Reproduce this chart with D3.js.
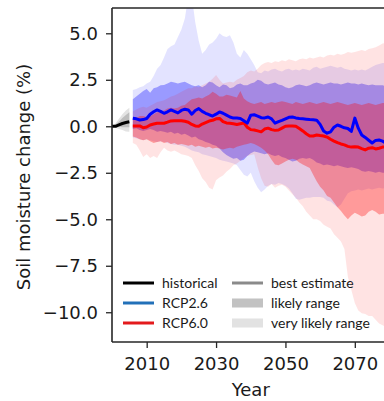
<!DOCTYPE html>
<html>
<head>
<meta charset="utf-8">
<script src="https://cdn.jsdelivr.net/npm/d3@7"></script>
<style>
  html, body { margin: 0; padding: 0; background: #fff; }
  svg { display: block; }
</style>
</head>
<body>
<svg id="chart" width="384" height="401"></svg>
<script>
// ---- data: soil moisture change (%) relative to 1986-2005 ----
const histYears = [2000, 2001, 2002, 2003, 2004, 2005];
const histMean = [0.00, 0.00, 0.08, 0.15, 0.20, 0.24];
const histLikelyHi = [0.00, 0.10, 0.25, 0.45, 0.60, 0.75];
const histLikelyLo = [0.00, -0.03, -0.03, -0.05, -0.05, -0.05];
const histVeryLikelyHi = [0.00, 0.15, 0.40, 0.65, 0.85, 1.00];
const histVeryLikelyLo = [0.00, -0.08, -0.15, -0.20, -0.28, -0.30];

const years = d3.range(2006, 2081);

const rcp26Mean = [
  0.43, 0.40, 0.34, 0.36, 0.42, 0.65, 0.78, 0.88, 0.80, 0.70,
  0.78, 0.88, 0.80, 0.72, 0.85, 0.92, 0.88, 0.65, 0.85, 0.95,
  0.80, 0.70, 0.62, 0.55, 0.65, 0.77, 0.70, 0.60, 0.50, 0.44,
  0.44, 0.42, 0.30, 0.17, 0.60, 0.62, 0.55, 0.46, 0.45, 0.50,
  0.40, 0.17, 0.25, 0.32, 0.40, 0.48, 0.50, 0.45, 0.42, 0.40,
  0.38, 0.36, 0.35, 0.33, 0.10, -0.25, -0.37, -0.30, -0.05, 0.07,
  0.00, -0.08, -0.12, -0.28, 0.44, -0.10, -0.47, -0.60, -0.75, -0.90,
  -0.76, -0.74, -0.80, -0.90, -0.90
];
const rcp26LikelyHi = [
  1.45, 1.60, 1.75, 1.90, 2.00, 1.80, 2.05, 2.10, 2.20, 2.22,
  2.30, 2.40, 2.35, 2.30, 2.35, 2.40, 2.30, 2.20, 2.15, 2.20,
  2.10, 2.20, 2.40, 2.35, 2.20, 2.10, 2.25, 2.20, 2.05, 2.10,
  2.25, 2.30, 2.20, 2.20, 2.30, 2.35, 2.50, 2.45, 2.30, 2.25,
  2.30, 2.35, 2.25, 2.20, 2.10, 2.05, 2.10, 2.20, 2.25, 2.20,
  2.15, 2.20, 2.30, 2.35, 2.30, 2.25, 2.30, 2.35, 2.30, 2.30,
  2.25, 2.30, 2.35, 2.30, 2.30, 2.25, 2.30, 2.25, 2.20, 2.25,
  2.20, 2.20, 2.20, 2.15, 2.15
];
const rcp26LikelyLo = [
  -0.15, -0.10, -0.20, -0.25, -0.20, -0.15, -0.20, -0.30, -0.25, -0.30,
  -0.35, -0.30, -0.40, -0.35, -0.45, -0.40, -0.50, -0.60, -0.55, -0.70,
  -0.75, -0.85, -0.90, -1.00, -1.05, -1.20, -1.40, -1.55, -1.65, -1.75,
  -1.70, -1.85, -1.80, -1.60, -1.45, -1.35, -1.40, -1.45, -1.50, -1.45,
  -1.55, -1.60, -1.55, -1.65, -1.70, -1.80, -1.90, -1.85, -1.75, -1.70,
  -1.75, -1.70, -1.80, -1.95, -2.00, -2.10, -2.05, -2.10, -2.15, -2.10,
  -2.15, -2.20, -2.25, -2.20, -2.25, -2.30, -2.40, -2.45, -2.40, -2.45,
  -2.50, -2.45, -2.50, -2.50, -2.50
];
const rcp26VeryLikelyHi = [
  1.95, 2.00, 2.10, 2.15, 2.30, 2.40, 2.70, 3.10, 3.30, 3.70,
  4.15, 4.30, 4.40, 4.80, 5.20, 5.80, 7.00, 7.00, 5.60, 4.60,
  3.90, 4.10, 4.40, 4.50, 4.70, 5.00, 4.85, 4.80, 4.90, 4.50,
  3.90, 3.70, 4.10, 3.90, 3.60, 3.30, 2.90, 2.85, 3.00, 2.95,
  3.05, 3.10, 3.00, 2.95, 3.05, 3.10, 3.00, 3.05, 3.00, 3.10,
  3.05, 3.00, 3.15, 3.20, 3.10, 3.15, 3.20, 3.25, 3.20, 3.15,
  3.20, 3.10, 3.05, 3.00, 3.05, 3.00, 3.05, 3.00, 3.10, 3.20,
  3.30, 3.35, 3.40, 3.40, 3.40
];
const rcp26VeryLikelyLo = [
  -0.60, -0.65, -0.70, -0.75, -0.70, -0.75, -0.80, -0.85, -0.80, -0.85,
  -0.90, -0.95, -1.00, -1.00, -1.05, -1.10, -1.20, -1.30, -1.35, -1.40,
  -1.50, -1.55, -1.60, -1.65, -1.70, -1.80, -1.85, -1.90, -1.95, -2.00,
  -2.10, -2.35, -2.60, -2.70, -2.50, -2.95, -3.30, -3.55, -3.40, -3.20,
  -3.10, -3.15, -3.05, -3.10, -3.20, -3.35, -3.60, -3.90, -3.95, -3.90,
  -3.85, -3.85, -3.80, -3.80, -3.80, -3.85, -4.00, -4.05, -4.20, -4.35,
  -4.20, -3.90, -3.60, -3.50, -3.45, -3.40, -3.45, -3.40, -3.35, -3.40,
  -3.35, -3.30, -3.35, -3.30, -3.30
];

const rcp60Mean = [
  0.02, 0.02, 0.02, -0.08, -0.04, 0.07, 0.12, 0.16, 0.16, 0.16,
  0.22, 0.29, 0.30, 0.30, 0.30, 0.27, 0.22, 0.10, 0.02, 0.00,
  0.12, 0.20, 0.28, 0.32, 0.40, 0.42, 0.25, 0.18, 0.16, 0.14,
  0.10, 0.14, 0.18, -0.05, -0.18, -0.20, -0.25, -0.30, -0.15, -0.10,
  -0.18, -0.22, -0.20, -0.10, 0.00, 0.02, 0.02, 0.00, -0.12, -0.25,
  -0.40, -0.52, -0.52, -0.47, -0.50, -0.52, -0.58, -0.70, -0.80, -0.88,
  -0.95, -1.00, -1.08, -1.12, -1.10, -1.12, -1.20, -1.27, -1.18, -1.15,
  -1.22, -1.18, -1.12, -1.12, -1.12
];
const rcp60LikelyHi = [
  0.35, 0.45, 0.55, 0.55, 0.50, 0.55, 0.65, 0.75, 0.80, 0.85,
  0.95, 1.00, 0.95, 1.00, 1.10, 1.15, 1.30, 1.45, 1.50, 1.55,
  1.50, 1.60, 1.70, 1.85, 1.75, 1.60, 1.60, 1.70, 1.65, 1.60,
  1.55, 1.90, 1.50, 1.35, 1.25, 1.20, 1.25, 1.30, 1.20, 1.25,
  1.30, 1.25, 1.30, 1.35, 1.30, 1.25, 1.20, 1.30, 1.25, 1.20,
  1.25, 1.30, 1.25, 1.20, 1.25, 1.30, 1.25, 1.20, 1.25, 1.30,
  1.25, 1.20, 1.15, 1.20, 1.25, 1.20, 1.15, 1.20, 1.25, 1.20,
  1.15, 1.20, 1.25, 1.25, 1.25
];
const rcp60LikelyLo = [
  -0.55, -0.60, -0.70, -0.75, -0.70, -0.80, -0.90, -0.85, -0.80, -0.90,
  -0.85, -0.95, -0.90, -1.00, -0.95, -1.00, -1.05, -1.00, -1.10, -1.05,
  -1.10, -1.15, -1.10, -1.20, -1.15, -1.20, -1.25, -1.20, -1.15, -1.20,
  -1.10, -1.05, -1.00, -0.95, -0.90, -0.95, -1.05, -1.15, -1.30, -1.50,
  -1.80, -2.05, -2.10, -2.00, -1.90, -1.80, -1.75, -1.80, -1.95, -2.05,
  -2.15, -2.25, -2.60, -2.95, -3.25, -3.45, -3.75, -3.85, -4.10, -4.35,
  -4.55, -4.80, -5.00, -4.80, -4.65, -4.75, -4.85, -4.80, -4.60, -4.50,
  -4.60, -4.75, -4.70, -4.70, -4.70
];
const rcp60VeryLikelyHi = [
  0.80, 0.90, 1.00, 1.05, 1.00, 1.10, 1.20, 1.30, 1.35, 1.40,
  1.50, 1.60, 1.65, 1.75, 1.85, 1.95, 2.05, 2.05, 2.15, 2.10,
  2.20, 2.30, 2.40, 2.55, 2.76, 2.50, 2.30, 2.35, 2.40, 2.35,
  2.50, 2.60, 2.70, 2.90, 3.00, 2.95, 3.10, 3.30, 3.40, 3.45,
  3.40, 3.50, 3.45, 3.55, 3.50, 3.60, 3.55, 3.50, 3.60, 3.65,
  3.60, 3.70, 3.65, 3.70, 3.75, 3.70, 3.80, 3.85, 3.80, 3.90,
  3.85, 3.90, 4.00, 3.95, 4.00, 4.05, 4.10, 4.05, 4.15, 4.20,
  4.25, 4.35, 4.45, 4.50, 4.50
];
const rcp60VeryLikelyLo = [
  -0.90, -1.00, -1.30, -1.65, -1.50, -1.70, -1.60, -1.70, -1.40, -1.15,
  -1.30, -1.37, -1.30, -1.40, -1.50, -1.55, -1.60, -1.70, -2.10, -2.40,
  -2.80, -3.00, -3.30, -3.40, -2.90, -2.75, -2.65, -2.45, -2.30, -2.10,
  -2.00, -1.85, -1.70, -1.60, -1.55, -1.50, -2.20, -2.80, -3.20, -3.25,
  -3.10, -3.30, -3.20, -3.15, -3.25, -3.45, -3.65, -3.85, -4.10, -4.30,
  -4.60, -4.80, -5.00, -5.00, -5.10, -5.30, -5.40, -5.50, -5.80, -6.00,
  -6.20, -6.60, -8.10, -8.80, -9.50, -9.90, -10.05, -10.10, -10.20, -10.20,
  -10.40, -10.60, -10.70, -10.80, -10.80
];

const yTicks = [-10, -7.5, -5, -2.5, 0, 2.5, 5];
const xTicks = [2010, 2030, 2050, 2070];

// ---- layout ----
const svg = d3.select("#chart");
const plotLeft = 112, plotTop = 8, plotBottom = 342, plotRight = 389.5;
const tickFont = "'DejaVu Sans', sans-serif";

const x = d3.scaleLinear().domain([2000, 2080]).range([plotLeft, plotRight]);
const y = d3.scaleLinear().domain([-11.6, 6.36]).range([plotBottom, plotTop]);

svg.append("defs").append("clipPath").attr("id", "plot-clip")
  .append("rect").attr("x", plotLeft).attr("y", plotTop)
  .attr("width", plotRight - plotLeft).attr("height", plotBottom - plotTop);

const plot = svg.append("g").attr("clip-path", "url(#plot-clip)");

function bandOf(xs, lo, hi) {
  return xs.map((yr, i) => ({ yr, lo: lo[i], hi: hi[i] }));
}
function lineOf(xs, vals) {
  return xs.map((yr, i) => ({ yr, v: vals[i] }));
}
const area = d3.area().x(d => x(d.yr)).y0(d => y(d.lo)).y1(d => y(d.hi));
const line = d3.line().x(d => x(d.yr)).y(d => y(d.v));

// historical envelope
plot.append("path").datum(bandOf(histYears, histVeryLikelyLo, histVeryLikelyHi))
  .attr("d", area).attr("fill", "#e3e3e3");
plot.append("path").datum(bandOf(histYears, histLikelyLo, histLikelyHi))
  .attr("d", area).attr("fill", "#bdbdbd");

// scenario envelopes
const bands = [
  { lo: rcp26VeryLikelyLo, hi: rcp26VeryLikelyHi, color: "#0000ff", op: 0.11 },
  { lo: rcp26LikelyLo, hi: rcp26LikelyHi, color: "#0000ff", op: 0.32 },
  { lo: rcp60VeryLikelyLo, hi: rcp60VeryLikelyHi, color: "#ff0000", op: 0.11 },
  { lo: rcp60LikelyLo, hi: rcp60LikelyHi, color: "#ff0000", op: 0.32 }
];
bands.forEach(b => {
  plot.append("path").datum(bandOf(years, b.lo, b.hi))
    .attr("d", area).attr("fill", b.color).attr("fill-opacity", b.op);
});

// best estimates
plot.append("path").datum(lineOf(histYears, histMean)).attr("d", line)
  .attr("fill", "none").attr("stroke", "#000").attr("stroke-width", 3)
  .attr("stroke-linejoin", "round");
plot.append("path").datum(lineOf(years, rcp60Mean)).attr("d", line)
  .attr("fill", "none").attr("stroke", "#ff0000").attr("stroke-width", 3)
  .attr("stroke-linejoin", "round");
plot.append("path").datum(lineOf(years, rcp26Mean)).attr("d", line)
  .attr("fill", "none").attr("stroke", "#0000ff").attr("stroke-width", 3)
  .attr("stroke-linejoin", "round");

// axes
const yAxis = d3.axisLeft(y).tickValues(yTicks).tickFormat(d3.format(".1f"))
  .tickSize(6).tickPadding(8);
const xAxis = d3.axisBottom(x).tickValues(xTicks).tickFormat(d3.format("d"))
  .tickSize(6).tickPadding(9);

const gy = svg.append("g").attr("transform", `translate(${plotLeft},0)`).call(yAxis);
const gx = svg.append("g").attr("transform", `translate(0,${plotBottom})`).call(xAxis);
[gy, gx].forEach(g => {
  g.select(".domain").remove();
  g.selectAll(".tick line").attr("stroke", "#262626").attr("stroke-width", 1.3);
  g.selectAll(".tick text").attr("fill", "#1a1a1a")
    .style("font-family", tickFont).style("font-size", "18px");
});

// spines
const spine = svg.append("g").attr("stroke", "#262626").attr("stroke-width", 1.6)
  .attr("fill", "none");
spine.append("line").attr("x1", plotLeft).attr("x2", plotLeft)
  .attr("y1", plotTop).attr("y2", plotBottom);
spine.append("line").attr("x1", plotLeft).attr("x2", 400)
  .attr("y1", plotBottom).attr("y2", plotBottom);
spine.append("line").attr("x1", plotLeft).attr("x2", 400)
  .attr("y1", plotTop).attr("y2", plotTop);

// axis titles
svg.append("text").attr("x", (plotLeft + plotRight) / 2).attr("y", 396)
  .attr("text-anchor", "middle").attr("fill", "#1a1a1a")
  .style("font-family", tickFont).style("font-size", "18px").text("Year");
svg.append("text").attr("transform", "translate(30,177) rotate(-90)")
  .attr("text-anchor", "middle").attr("fill", "#1a1a1a")
  .style("font-family", tickFont).style("font-size", "18px")
  .text("Soil moisture change (%)");

// legend
const legendFont = "Lato, sans-serif";
const rows = [283, 303, 323];
const scenarioKeys = [
  { label: "historical", color: "#000000" },
  { label: "RCP2.6", color: "#2270b8" },
  { label: "RCP6.0", color: "#e31a1c" }
];
const legend = svg.append("g");
scenarioKeys.forEach((k, i) => {
  legend.append("line").attr("x1", 123).attr("x2", 154)
    .attr("y1", rows[i]).attr("y2", rows[i])
    .attr("stroke", k.color).attr("stroke-width", 3);
  legend.append("text").attr("x", 162).attr("y", rows[i] + 5)
    .attr("fill", "#1a1a1a").style("font-family", legendFont)
    .style("font-size", "14px").text(k.label);
});
legend.append("line").attr("x1", 232).attr("x2", 263)
  .attr("y1", rows[0]).attr("y2", rows[0])
  .attr("stroke", "#8a8a8a").attr("stroke-width", 3);
legend.append("rect").attr("x", 232).attr("y", rows[1] - 4.5)
  .attr("width", 31).attr("height", 9).attr("fill", "#c2c2c2");
legend.append("rect").attr("x", 232).attr("y", rows[2] - 4.5)
  .attr("width", 31).attr("height", 9).attr("fill", "#e2e2e2");
["best estimate", "likely range", "very likely range"].forEach((t, i) => {
  legend.append("text").attr("x", 271).attr("y", rows[i] + 5)
    .attr("fill", "#1a1a1a").style("font-family", legendFont)
    .style("font-size", "14px").text(t);
});
</script>
</body>
</html>
